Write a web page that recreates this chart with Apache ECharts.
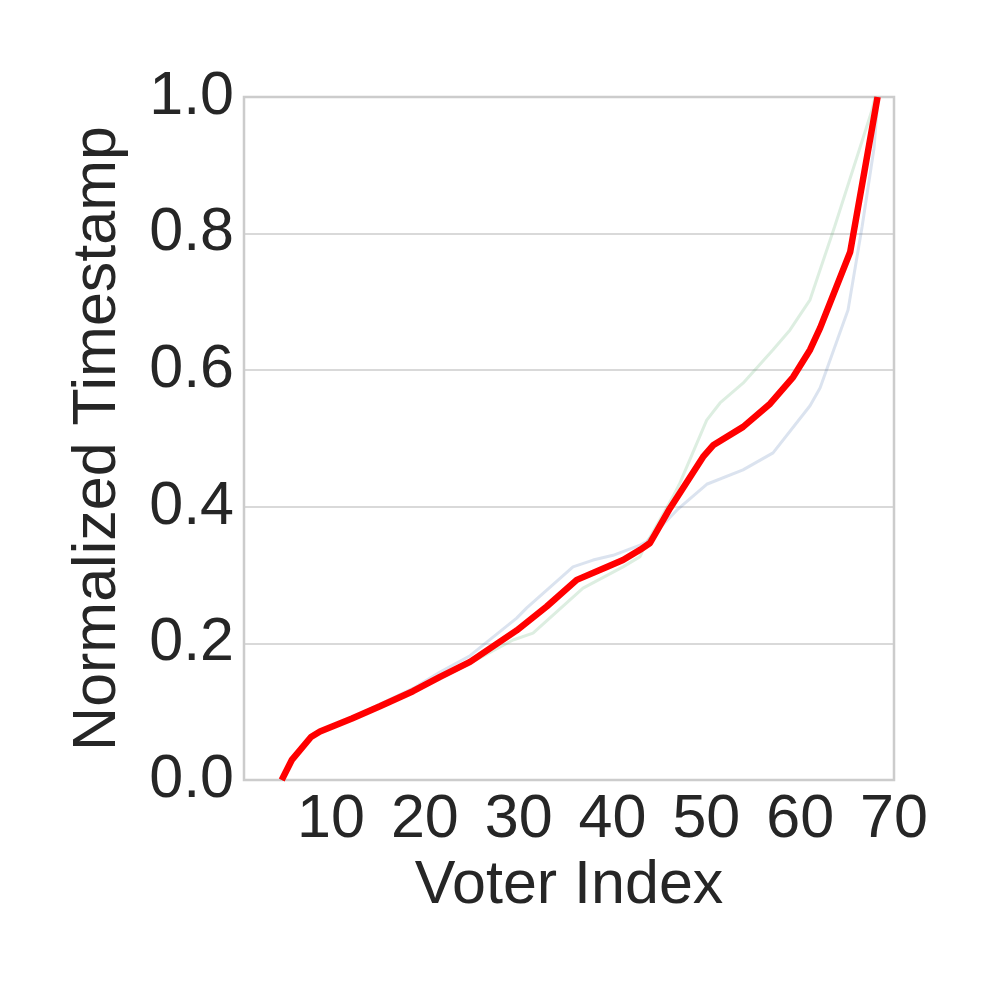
<!DOCTYPE html>
<html>
<head>
<meta charset="utf-8">
<script src="https://cdn.jsdelivr.net/npm/echarts@6/dist/echarts.min.js"></script>
<style>
  html, body { margin: 0; padding: 0; background: #fff; }
  #main { width: 997px; height: 997px; }
</style>
</head>
<body>
<div id="main"></div>
<script>
// tick labels
var xTicks = [10, 20, 30, 40, 50, 60, 70];
var yTicks = [0, 0.2, 0.4, 0.6, 0.8, 1.0];

// faint blue run
var blueX = [4.75, 5.81, 7.87, 8.83, 12.24, 15.22, 18.74, 21.62, 24.82, 29.79, 30.86, 35.79, 37.93, 40.06, 42.94, 43.65, 46.85, 50.04, 53.91, 57.11, 61.05, 62.12, 65.10, 66.60, 67.87, 68.30];
var blueY = [0.000, 0.029, 0.063, 0.071, 0.091, 0.111, 0.134, 0.158, 0.182, 0.237, 0.252, 0.312, 0.322, 0.329, 0.344, 0.349, 0.395, 0.433, 0.454, 0.479, 0.548, 0.574, 0.688, 0.810, 0.925, 1.000];

// faint green run
var greenX = [4.75, 5.81, 7.87, 8.83, 12.24, 15.22, 18.74, 21.62, 24.82, 29.40, 31.53, 36.86, 41.12, 42.94, 43.25, 46.45, 47.19, 50.04, 51.46, 53.91, 57.11, 58.92, 61.05, 63.67, 67.66, 67.98];
var greenY = [0.000, 0.029, 0.063, 0.071, 0.092, 0.110, 0.130, 0.148, 0.171, 0.205, 0.215, 0.281, 0.312, 0.327, 0.337, 0.415, 0.435, 0.527, 0.552, 0.581, 0.630, 0.659, 0.703, 0.810, 0.981, 1.000];

// red mean line
var redX = [4.75, 5.81, 7.87, 8.83, 12.24, 15.22, 18.74, 21.62, 24.82, 29.79, 32.99, 36.19, 39.39, 41.12, 42.94, 44.00, 46.13, 49.65, 50.72, 53.92, 56.80, 59.25, 61.06, 62.13, 65.33, 68.25];
var redY = [0.000, 0.029, 0.063, 0.071, 0.090, 0.108, 0.130, 0.151, 0.173, 0.219, 0.254, 0.293, 0.312, 0.322, 0.337, 0.347, 0.398, 0.473, 0.490, 0.517, 0.551, 0.590, 0.630, 0.662, 0.773, 1.000];

function pairs(xs, ys) {
  return xs.map(function (x, i) { return [x, ys[i]]; });
}

var textColor = '#262626';
var fontFamily = '"Liberation Sans", Arial, sans-serif';

var myChart = echarts.init(document.getElementById('main'));
var option = {
  backgroundColor: '#ffffff',
  animation: false,
  grid: {
    left: 244,
    right: 103,
    top: 97,
    bottom: 217,
    show: true,
    borderColor: '#cccccc',
    borderWidth: 2.5
  },
  xAxis: {
    type: 'value',
    min: 0.73,
    max: 70,
    name: 'Voter Index',
    nameLocation: 'middle',
    nameGap: 68,
    nameTextStyle: { color: textColor, fontSize: 61, fontFamily: fontFamily },
    axisLine: { show: false },
    axisTick: { show: false },
    splitLine: { show: false },
    axisLabel: {
      customValues: xTicks,
      color: textColor,
      fontSize: 61,
      fontFamily: fontFamily,
      margin: 10
    }
  },
  yAxis: {
    type: 'value',
    min: 0,
    max: 1,
    interval: 0.2,
    name: 'Normalized Timestamp',
    nameLocation: 'middle',
    nameGap: 115,
    nameTextStyle: { color: textColor, fontSize: 61, fontFamily: fontFamily },
    axisLine: { show: false },
    axisTick: { show: false },
    splitLine: { show: true, lineStyle: { color: '#cccccc', width: 1.5 } },
    axisLabel: {
      customValues: yTicks,
      color: textColor,
      fontSize: 61,
      fontFamily: fontFamily,
      margin: 10,
      formatter: function (v) { return v.toFixed(1); }
    }
  },
  series: [
    {
      type: 'line',
      data: pairs(blueX, blueY),
      showSymbol: false,
      lineStyle: { color: '#4C72B0', width: 3, opacity: 0.2 },
      z: 2
    },
    {
      type: 'line',
      data: pairs(greenX, greenY),
      showSymbol: false,
      lineStyle: { color: '#55A868', width: 3, opacity: 0.2 },
      z: 2
    },
    {
      type: 'line',
      data: pairs(redX, redY),
      showSymbol: false,
      lineStyle: { color: '#ff0000', width: 6.5 },
      z: 3
    }
  ]
};
myChart.setOption(option);
</script>
</body>
</html>
